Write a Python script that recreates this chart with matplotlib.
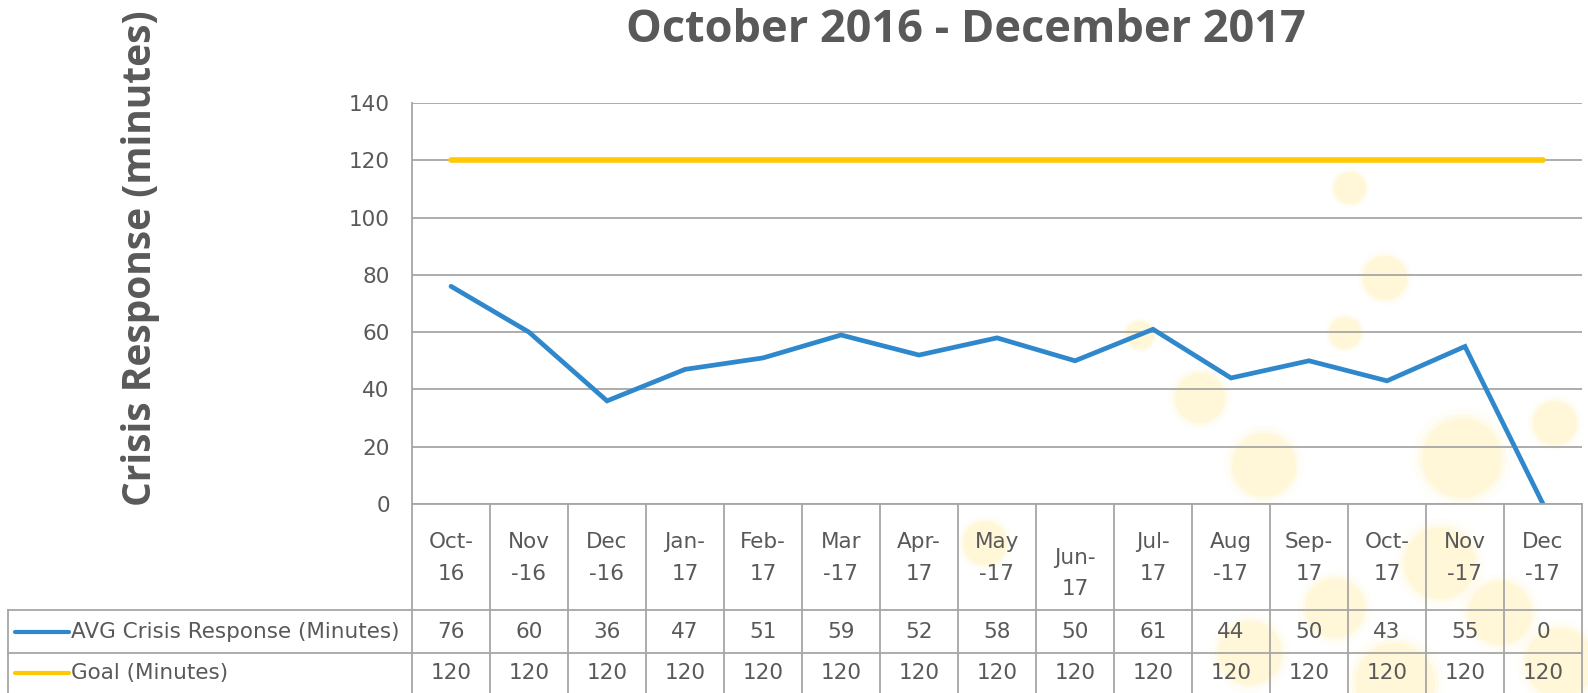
import matplotlib
matplotlib.use("Agg")
import matplotlib.pyplot as plt
from matplotlib.patches import Circle
from matplotlib.transforms import IdentityTransform

# ------------------------------------------------------------
# data
# ------------------------------------------------------------
months = ["Oct-\n16", "Nov\n-16", "Dec\n-16", "Jan-\n17", "Feb-\n17", "Mar\n-17",
          "Apr-\n17", "May\n-17", "\nJun-\n17", "Jul-\n17", "Aug\n-17", "Sep-\n17",
          "Oct-\n17", "Nov\n-17", "Dec\n-17"]
avg_response = [76, 60, 36, 47, 51, 59, 52, 58, 50, 61, 44, 50, 43, 55, 0]
goal = [120] * 15
series_names = ["AVG Crisis Response (Minutes)", "Goal (Minutes)"]
yticks = [0, 20, 40, 60, 80, 100, 120, 140]

BLUE = "#2F88CB"
GOLD = "#FFC800"
TXT = "#595959"
GRID = "#A6A6A6"
NARROW = ["Liberation Sans Narrow", "DejaVu Sans"]

W, H = 1588, 693
fig = plt.figure(figsize=(W / 100, H / 100), dpi=100)

# faint background bubbles (slide decoration), pixel coords from bottom-left
bubbles = [(1350, 505, 16), (1385, 415, 22), (1140, 358, 14), (1345, 360, 16),
           (1200, 295, 25), (1264, 228, 32), (1462, 235, 40), (1555, 270, 22),
           (1440, 130, 36), (1335, 85, 30), (1250, 40, 32), (1500, 80, 32),
           (1560, 30, 35), (1395, 10, 40), (985, 150, 22)]
for bx, by, br in bubbles:
    for scale, a in [(1.25, 0.08), (1.1, 0.12), (1.0, 0.25)]:
        fig.add_artist(Circle((bx, by), br * scale, transform=IdentityTransform(),
                              color="#FFEFA0", alpha=a, lw=0, zorder=-5))

# ------------------------------------------------------------
# line chart
# ------------------------------------------------------------
left, right = 412, 1582
top, axis_y = 103, 504
ax = fig.add_axes([left / W, (H - axis_y) / H, (right - left) / W, (axis_y - top) / H])
ax.set_facecolor("none")
x = range(len(months))
ax.plot(x, goal, color=GOLD, lw=4.0, solid_capstyle="round", zorder=3)
ax.plot(x, avg_response, color=BLUE, lw=3.4, solid_capstyle="round",
        solid_joinstyle="miter", zorder=4)
ax.set_xlim(-0.5, len(months) - 0.5)
ax.set_ylim(0, 140)
ax.set_yticks(yticks)
ax.set_xticks([])
ax.tick_params(axis="y", length=0, pad=16, labelsize=15.5, labelcolor=TXT)
for lab in ax.get_yticklabels():
    lab.set_family(NARROW)
ax.yaxis.grid(True, color=GRID, lw=1.3)
ax.set_axisbelow(True)
for s in ["top", "right", "bottom"]:
    ax.spines[s].set_visible(False)
ax.spines["left"].set_color(GRID)
ax.spines["left"].set_linewidth(1.3)

# ------------------------------------------------------------
# data table under the chart
# ------------------------------------------------------------
tab = fig.add_axes([left / W, 0, (right - left) / W, (H - axis_y) / H])
tab.set_facecolor("none")
tab.set_xlim(-0.5, len(months) - 0.5)
tab.set_ylim(H - axis_y, 0)
tab.axis("off")
col_w = (right - left) / len(months)
legend_left = -0.5 - (left - 8) / col_w
row_top = [0, 106, 149, H - axis_y]
line_kw = dict(color=GRID, lw=1.3, clip_on=False)

tab.plot([-0.5, len(months) - 0.5], [0, 0], **line_kw)
for ry in row_top[1:3]:
    tab.plot([legend_left, len(months) - 0.5], [ry, ry], **line_kw)
for k in range(len(months) + 1):
    tab.plot([k - 0.5, k - 0.5], [0, row_top[-1]], **line_kw)
tab.plot([legend_left, legend_left], [row_top[1], row_top[-1]], **line_kw)

for i, m in enumerate(months):
    tab.text(i, row_top[1] / 2 + 1, m, ha="center", va="center", fontsize=15.5,
             color=TXT, family=NARROW, linespacing=1.7)

for r, (vals, name, col) in enumerate([(avg_response, series_names[0], BLUE),
                                       (goal, series_names[1], GOLD)]):
    yc = (row_top[r + 1] + row_top[r + 2]) / 2
    for i, v in enumerate(vals):
        tab.text(i, yc, str(v), ha="center", va="center", fontsize=15.5,
                 color=TXT, family=NARROW)
    x0 = -0.5 - (left - 15) / col_w
    x1 = -0.5 - (left - 69) / col_w
    tab.plot([x0, x1], [yc, yc], color=col, lw=3.0, solid_capstyle="round",
             clip_on=False)
    tab.text(x1 + 0.03, yc, name, ha="left", va="center", fontsize=15.5,
             color=TXT, family=NARROW)

# ------------------------------------------------------------
# titles
# ------------------------------------------------------------
fig.text(966 / W, 1 - 31 / H, "October 2016 - December 2017", ha="center",
         va="center", fontsize=32.5, fontweight="bold", color=TXT,
         family=["Open Sans", "DejaVu Sans"])
fig.text(141 / W, 1 - 258 / H, "Crisis Response (minutes)", ha="center",
         va="center", rotation=90, fontsize=28, fontweight="bold", color=TXT,
         family=["Open Sans", "DejaVu Sans"])

fig.savefig("out.png", dpi=100, facecolor="white")
